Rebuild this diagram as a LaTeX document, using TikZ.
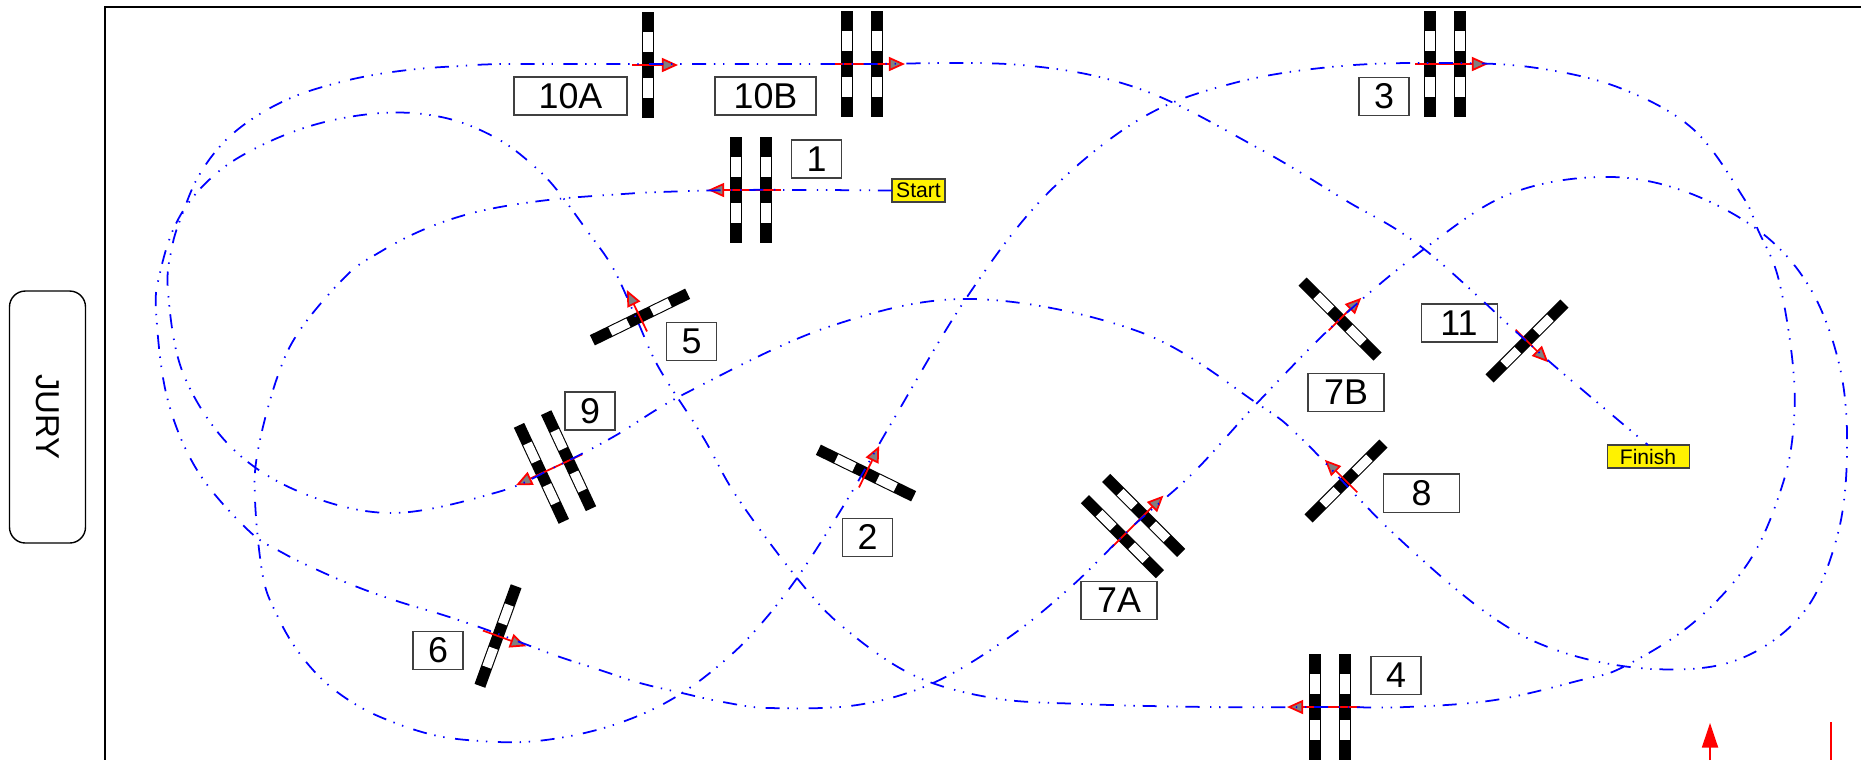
\documentclass[tikz,border=0pt]{standalone}
\usepackage{fontspec}
\setmainfont{Liberation Sans}
\usetikzlibrary{arrows.meta}

\newcommand{\gatebar}[1]{
  \fill[black, shift={(#1,0)}] (-5.7,-53) rectangle (5.7,53);
  \fill[white, shift={(#1,0)}] (-4.6,-33) rectangle (4.6,-13);
  \fill[white, shift={(#1,0)}] (-4.6,13) rectangle (4.6,33);
}

\tikzset{
  tag/.style={draw=black!75, line width=0.3pt, fill=white, inner sep=0pt, outer sep=0pt,
    minimum width=5mm, minimum height=3.8mm, font=\fontsize{10.2pt}{12pt}\selectfont},
  flag/.style={draw=black!75, line width=0.3pt, fill=yellow, inner sep=0pt, outer sep=0pt,
    minimum height=2.3mm, font=\fontsize{6pt}{7pt}\selectfont},
  track/.style={blue, line width=0.5pt, dash pattern=on 4pt off 2.2pt on 0.4pt off 2.2pt on 0.4pt off 3pt},
  gatearrow/.style={red, line width=0.5pt, -{Triangle[length=4.6pt, width=4pt, fill=gray]}},
  gateone/.pic={
    \gatebar{0}
    \draw[gatearrow] (-16,0) -- (30,0);
  },
  gatetwo/.pic={
    \gatebar{-15}
    \gatebar{15}
    \draw[gatearrow] (-30,0) -- (43,0);
  },
}

\begin{document}
\begin{tikzpicture}[x=0.1mm, y=-0.1mm]
  \useasboundingbox (0,0) rectangle (1861,760);

  % Field and jury
  \draw[line width=0.55pt] (1861,7) -- (105,7) -- (105,760);
  \node[draw=black, line width=0.4pt, rounded corners=4.5pt, minimum width=7.6mm, minimum height=25.2mm,
    inner sep=0pt] (jury) at (47.5,417) {};
  \node[rotate=-90, font=\fontsize{9.4pt}{11pt}\selectfont] (jurytext) at (jury.center) {JURY};

  % Gates
  \foreach \cx/\cy/\rot in {648/65/0, 640/317/116, 866/473/64, 498/636/-20, 1340/319/45, 1346/481/135, 1527/341/-45}
    \pic[rotate=\rot] at (\cx,\cy) {gateone};
  \foreach \cx/\cy/\rot in {862/64/0, 751/190/180, 1445/64/0, 1330/707/180, 555/467/205, 1133/526/45}
    \pic[rotate=\rot] at (\cx,\cy) {gatetwo};

  % Numbers
  \node[tag] (n1) at (816.5,159) {1};
  \node[tag] (n2) at (867.5,537) {2};
  \node[tag] (n3) at (1384,96.5) {3};
  \node[tag] (n4) at (1396,675.5) {4};
  \node[tag] (n5) at (691.5,341.5) {5};
  \node[tag] (n6) at (438,650.5) {6};
  \node[tag, minimum width=7.6mm] (n7a) at (1119,600) {7A};
  \node[tag, minimum width=7.6mm] (n7b) at (1346,392.5) {7B};
  \node[tag, minimum width=7.6mm] (n8) at (1421.5,493) {8};
  \node[tag] (n9) at (590,411) {9};
  \node[tag, minimum width=11.3mm] (n10a) at (570.5,96) {10A};
  \node[tag, minimum width=10.1mm] (n10b) at (765.5,96) {10B};
  \node[tag, minimum width=7.6mm] (n11) at (1459,323) {11};
  \node[flag, minimum width=5.3mm] (start) at (918.5,190.5) {Start};
  \node[flag, minimum width=8.2mm] (finish) at (1648,456.5) {Finish};

  % Course
  \draw[track] plot[smooth, tension=0.6] coordinates {(start.west) (820,190) (735,190) (660,192) (623,194)
    (557,199) (500,207) (458,217) (418,232) (380,252) (347,275) (300,330) (277,378) (258,450) (255,500)
    (263,577) (277,615) (297,650) (325,682) (360,707) (398,724) (438,736) (480,741) (523,742) (565,737)
    (607,727) (647,712) (682,693) (717,667) (753,633) (797,578) (847,500) (892,422) (967,297) (1045,196)
    (1140,119) (1234,83) (1341,66) (1454,63) (1537,68) (1620,88) (1693,129) (1743,197) (1758,230) (1778,277)
    (1792,357) (1794,420) (1783,483) (1750,560) (1693,623) (1623,667) (1581,680) (1495,700) (1406,707)
    (1330,707) (1210,707) (1083,704) (993,698) (913,675) (843,627) (797,578) (737,497) (703,437) (659,368)
    (637,320) (613,268) (588,232) (557,190) (535,167) (503,142) (463,123) (423,114) (382,113) (338,119)
    (298,130) (258,147) (223,168) (193,197) (173,230) (160,273) (156,310) (167,397) (197,470) (248,530)
    (283,553) (322,572) (360,588) (400,602) (440,614) (482,628) (533,647) (560,657) (600,670) (640,683)
    (682,693) (723,702) (770,708) (857,705) (933,683) (1008,638) (1073,585) (1133,526) (1193,473) (1260,400)
    (1340,319) (1424,249) (1507,195) (1597,177) (1678,189) (1758,230) (1810,288) (1840,368) (1847,453)
    (1837,537) (1803,613) (1737,660) (1653,669) (1562,652) (1488,614) (1392,532) (1303,440) (1258,404)
    (1140,332) (973,299) (831,326) (688,392) (613,437) (555,467) (498,492) (392,513) (300,492) (230,446)
    (183,373) (168,291) (172,247) (182,215) (198,177) (223,143) (255,117) (293,97) (333,84) (373,75)
    (417,69) (460,66) (507,64) (648,64) (755,64) (862,64) (1021,65) (1140,89) (1258,148) (1345,200)
    (1424,249) (1543,356) (finish.north)};

  % Bottom marks
  \draw[red, line width=0.4pt, -{Triangle[length=7pt, width=4.6pt]}] (1710,760) -- (1710,723);
  \draw[red, line width=0.4pt] (1831,722) -- (1831,760);
\end{tikzpicture}
\end{document}
